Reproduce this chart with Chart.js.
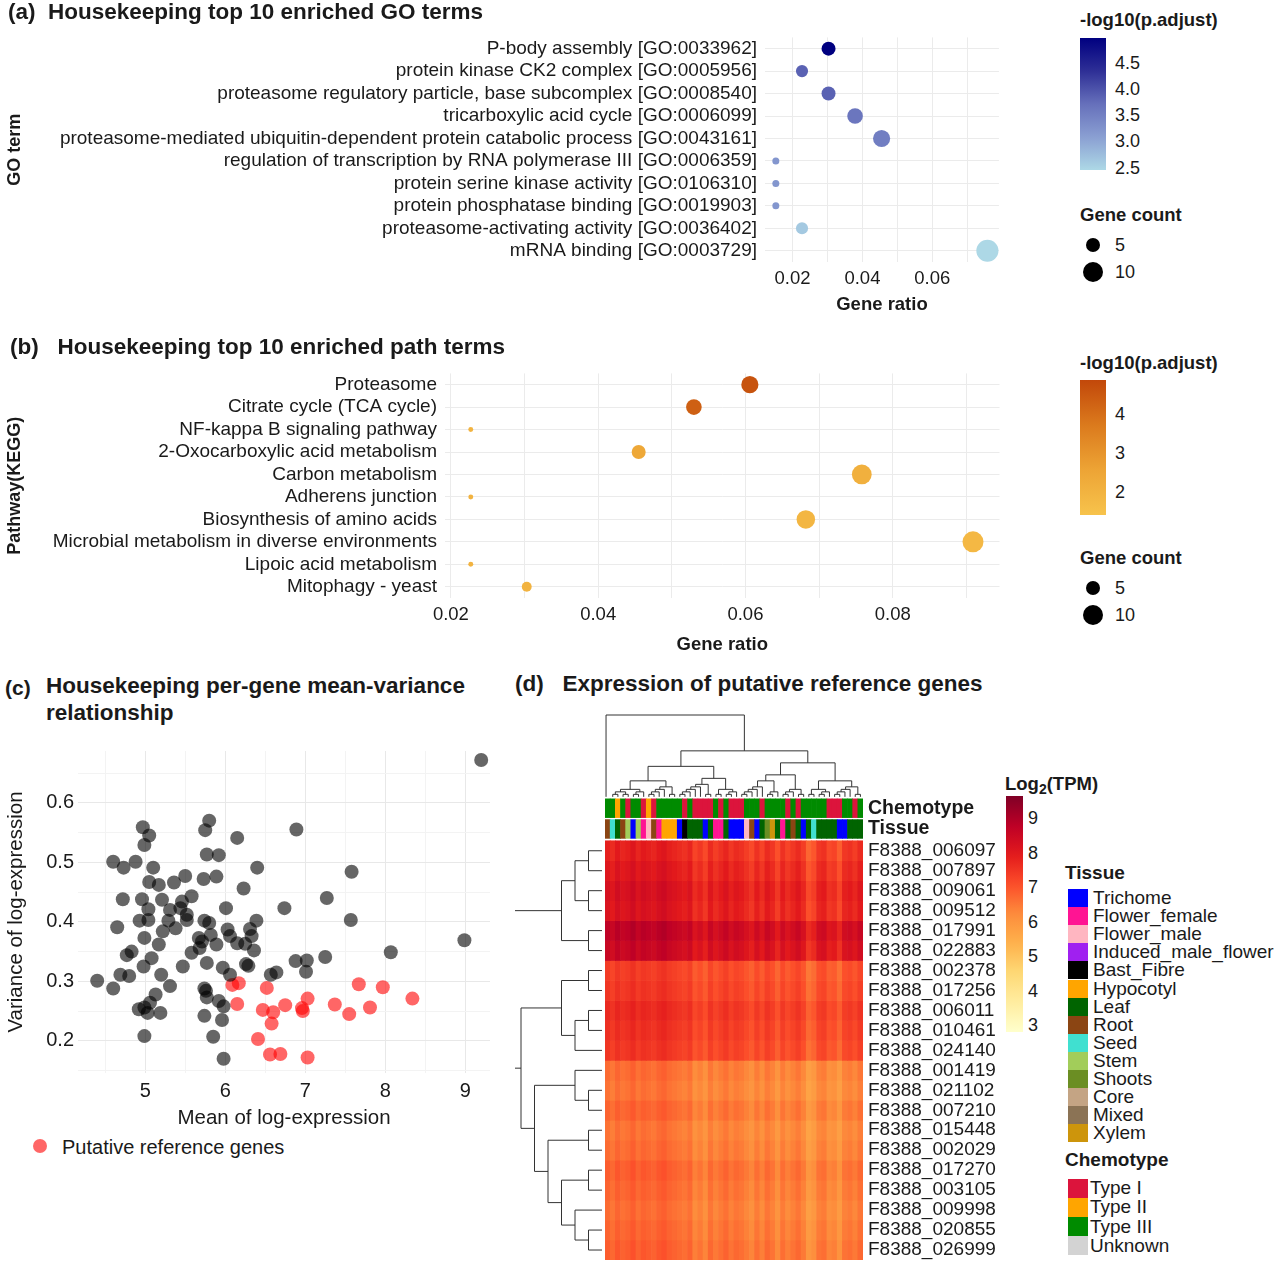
<!DOCTYPE html>
<html><head><meta charset="utf-8">
<script src="https://cdn.jsdelivr.net/npm/chart.js@4"></script>
<style>
body{margin:0;background:#fff;font-family:"Liberation Sans",Arial,sans-serif;color:#1a1a1a}
#root{position:relative;width:1280px;height:1264px;overflow:hidden}
.abs{position:absolute;white-space:nowrap}
.t{font-weight:bold;font-size:22.5px;transform:translateY(-50%)}
.lt{font-weight:bold;font-size:18.5px;transform:translateY(-50%)}
.lb{font-size:19px;transform:translateY(-50%)}
canvas{position:absolute}
.sw{position:absolute;width:20px;height:18px}
</style></head><body><div id="root">
<canvas id="ca"></canvas><canvas id="cb"></canvas><canvas id="cc"></canvas><canvas id="cd"></canvas>
</div>
<script>
// ---------- DATA ----------
const goTerms=["P-body assembly [GO:0033962]","protein kinase CK2 complex [GO:0005956]","proteasome regulatory particle, base subcomplex [GO:0008540]","tricarboxylic acid cycle [GO:0006099]","proteasome-mediated ubiquitin-dependent protein catabolic process [GO:0043161]","regulation of transcription by RNA polymerase III [GO:0006359]","protein serine kinase activity [GO:0106310]","protein phosphatase binding [GO:0019903]","proteasome-activating activity [GO:0036402]","mRNA binding [GO:0003729]"];
const goRatio=[0.0303,0.0227,0.0303,0.0379,0.0455,0.0152,0.0152,0.0152,0.0227,0.0758];
const goCount=[4,3,4,5,6,1,1,1,3,10];
const goP=[4.85,3.8,3.8,3.6,3.5,3.2,3.2,3.2,2.65,2.5];
const pathTerms=["Proteasome","Citrate cycle (TCA cycle)","NF-kappa B signaling pathway","2-Oxocarboxylic acid metabolism","Carbon metabolism","Adherens junction","Biosynthesis of amino acids","Microbial metabolism in diverse environments","Lipoic acid metabolism","Mitophagy - yeast"];
const pathRatio=[0.0606,0.0530,0.0227,0.0455,0.0758,0.0227,0.0682,0.0909,0.0227,0.0303];
const pathCount=[6,5,0.5,4,8,0.5,7,9,0.5,2];
const pathP=[4.6,4.3,2.0,2.4,2.1,2.0,1.9,1.8,2.0,2.0];
const meanBlack=[4.40,4.60,4.60,4.65,4.69,4.73,4.72,4.77,4.80,4.83,4.88,4.92,4.93,4.96,4.97,4.99,4.99,4.98,4.99,4.99,5.04,5.04,5.05,5.05,5.03,5.06,5.08,5.10,5.13,5.17,5.17,5.19,5.20,5.21,5.22,5.29,5.31,5.31,5.36,5.38,5.44,5.46,5.47,5.50,5.52,5.52,5.58,5.58,5.67,5.68,5.71,5.73,5.74,5.74,5.74,5.75,5.76,5.77,5.77,5.77,5.80,5.80,5.82,5.85,5.89,5.89,5.92,5.92,5.96,5.98,5.97,5.98,6.01,6.03,6.06,6.06,6.15,6.15,6.23,6.25,6.26,6.29,6.31,6.33,6.36,6.39,6.40,6.57,6.64,6.74,6.89,6.88,7.02,7.01,7.25,7.27,7.57,7.58,8.07,8.99,9.20];
const varBlack=[0.301,0.288,0.501,0.391,0.311,0.491,0.438,0.344,0.309,0.350,0.501,0.253,0.402,0.438,0.559,0.529,0.373,0.325,0.256,0.208,0.403,0.421,0.545,0.467,0.247,0.264,0.339,0.491,0.278,0.462,0.362,0.247,0.311,0.437,0.384,0.402,0.420,0.292,0.466,0.389,0.423,0.434,0.325,0.477,0.412,0.403,0.443,0.348,0.373,0.356,0.367,0.472,0.402,0.288,0.242,0.554,0.284,0.331,0.273,0.513,0.570,0.398,0.378,0.207,0.476,0.362,0.512,0.267,0.235,0.258,0.323,0.170,0.423,0.387,0.376,0.311,0.364,0.541,0.456,0.363,0.329,0.326,0.388,0.376,0.352,0.402,0.491,0.311,0.315,0.423,0.555,0.334,0.335,0.316,0.341,0.440,0.403,0.484,0.349,0.369,0.672];
const meanRed=[6.09,6.17,6.15,6.41,6.47,6.52,6.56,6.60,6.58,6.69,6.75,6.96,6.97,7.03,7.03,7.37,7.55,7.67,7.81,7.97,8.34];
const varRed=[0.294,0.297,0.262,0.203,0.252,0.289,0.177,0.248,0.229,0.178,0.260,0.255,0.250,0.271,0.172,0.261,0.245,0.295,0.256,0.290,0.271];
const genes=["F8388_006097","F8388_007897","F8388_009061","F8388_009512","F8388_017991","F8388_022883","F8388_002378","F8388_017256","F8388_006011","F8388_010461","F8388_024140","F8388_001419","F8388_021102","F8388_007210","F8388_015448","F8388_002029","F8388_017270","F8388_003105","F8388_009998","F8388_020855","F8388_026999"];
const geneMean=[7.4,7.6,7.8,7.7,8.3,8.1,7.0,7.1,7.3,7.2,7.1,6.3,6.2,6.4,6.2,6.3,6.5,6.4,6.3,6.4,6.5];
const sampleEffect=[0.4,0.2,0.5,0.3,0.4,0.6,0.3,0.5,0.4,0.3,0.5,0.6,0.4,0.3,0.2,0.1,0.3,-0.2,0.0,-0.3,0.2,-0.1,0.1,0.3,0.0,0.2,0.1,-0.1,-0.3,0.1,-0.2,0.2,0.0,-0.4,0.1,-0.2,0.0,0.2,-0.1,-0.7,-0.5,0.0,0.1,-0.3,-0.2,-0.6,0.0,0.1,-0.1,0.2];
const chemo=["III","III","II","III","I","III","III","I","II","I","III","III","III","III","III","I","III","I","I","I","I","III","I","III","I","I","I","III","III","III","I","III","III","III","III","I","III","I","III","III","III","III","III","I","I","I","III","III","I","III"];
const tissue=["Root","Seed","Leaf","Root","Stem","Trichome","Stem","Flower_female","Flower_male","Root","Flower_female","Hypocotyl","Hypocotyl","Hypocotyl","Trichome","Bast_Fibre","Leaf","Leaf","Leaf","Trichome","Leaf","Flower_female","Flower_female","Leaf","Trichome","Trichome","Trichome","Flower_male","Root","Trichome","Leaf","Shoots","Xylem","Leaf","Flower_female","Leaf","Root","Leaf","Trichome","Leaf","Seed","Leaf","Leaf","Leaf","Leaf","Trichome","Trichome","Leaf","Leaf","Leaf"];
const tissueNames=["Trichome","Flower_female","Flower_male","Induced_male_flower","Bast_Fibre","Hypocotyl","Leaf","Root","Seed","Stem","Shoots","Core","Mixed","Xylem"];
const tissueCols=["#0000ff","#ff1493","#ffb6c1","#a020f0","#000000","#ffa500","#006400","#8b4513","#40e0d0","#a2cd5a","#6b8e23","#c4a484","#8b7355","#cd950c"];
const chemoNames=["Type I","Type II","Type III","Unknown"];
const chemoKeys=["I","II","III","U"];
const chemoCols=["#dc143c","#ffa500","#008b00","#d3d3d3"];

// ---------- helpers ----------
const FONT='"Liberation Sans", Arial, sans-serif';
Chart.defaults.font.family=FONT;Chart.defaults.color='#1a1a1a';
Chart.defaults.animation=false;
function hex(h){return [parseInt(h.slice(1,3),16),parseInt(h.slice(3,5),16),parseInt(h.slice(5,7),16)];}
function ramp(stops,lo,hi,v){let t=(v-lo)/(hi-lo);t=Math.max(0,Math.min(1,t));const n=stops.length-1;const i=Math.min(n-1,Math.floor(t*n));const f=t*n-i;const a=hex(stops[i]),b=hex(stops[i+1]);return 'rgb('+a.map((x,k)=>Math.round(x+(b[k]-x)*f)).join(',')+')';}
const blueStops=["#add8e6","#8a9fd2","#6670bb","#2e2f96","#000080"];
const orangeStops=["#f7c34c","#eda435","#db7a1d","#c2480a"];
const ylorrd=["#ffffcc","#ffeda0","#fed976","#feb24c","#fd8d3c","#fc4e2a","#e31a1c","#bd0026","#800026"];
const rad=c=>3.5*Math.sqrt(c);
const root=document.getElementById('root');
function place(id,l,t,w,h){const c=document.getElementById(id);c.style.left=l+'px';c.style.top=t+'px';c.width=w;c.height=h;c.style.width=w+'px';c.style.height=h+'px';return c;}
function txt(s,l,t,cls,extra){const d=document.createElement('div');d.className='abs '+cls;d.style.left=l+'px';d.style.top=t+'px';d.innerHTML=s;if(extra)Object.assign(d.style,extra);root.appendChild(d);return d;}

// ---------- dot plots ----------
function dotChart(id,l,t,w,h,labels,ratio,count,p,stops,plo,phi,xmin,xmax,ticks,ytitle,areaLeft,areaBottomH,padTop){
  place(id,l,t,w,h);
  const minor=[];for(let v=0.01;v<=0.1001;v+=0.01)minor.push(+v.toFixed(2));
  return new Chart(document.getElementById(id),{type:'scatter',
   data:{datasets:[{data:labels.map((lab,i)=>({x:ratio[i],y:lab})),pointRadius:count.map(rad),pointHoverRadius:count.map(rad),backgroundColor:p.map(v=>ramp(stops,plo,phi,v)),borderWidth:0}]},
   options:{responsive:false,plugins:{legend:{display:false},tooltip:{enabled:false}},layout:{padding:{top:padTop,right:w-(1003-l)}},
    scales:{
     x:{type:'linear',min:xmin,max:xmax,afterBuildTicks:s=>{s.ticks=minor.filter(v=>v>xmin&&v<xmax).map(v=>({value:v}));},
        ticks:{callback:v=>ticks.some(q=>Math.abs(q-v)<1e-6)?v.toFixed(2):'',font:{size:18.5},color:'#1a1a1a',maxRotation:0,autoSkip:false,padding:6},
        grid:{color:'#ebebeb',drawTicks:false},border:{display:false},
        title:{display:true,text:'Gene ratio',font:{size:18.5,weight:'bold'},padding:{top:0}},afterFit:s=>{s.height=areaBottomH;}},
     y:{type:'category',labels:labels,offset:true,grid:{offset:false,color:'#ebebeb',drawTicks:false},border:{display:false},
        ticks:{font:{size:19},color:'#1a1a1a',padding:8,autoSkip:false},
        title:{display:true,text:ytitle,font:{size:18,weight:'bold'},padding:{bottom:0}},afterFit:s=>{s.width=areaLeft-l;}}
    }}});
}
dotChart('ca',0,18,1010,302,goTerms,goRatio,goCount,goP,blueStops,2.5,4.85,0.0121,0.0791,[0.02,0.04,0.06],'GO term',765,58,6);
dotChart('cb',0,354,1010,306,pathTerms,pathRatio,pathCount,pathP,orangeStops,1.4,4.85,0.0192,0.0945,[0.02,0.04,0.06,0.08],'Pathway(KEGG)',445,62,10);

// ---------- scatter (c) ----------
place('cc',0,735,500,400);
new Chart(document.getElementById('cc'),{type:'scatter',
 data:{datasets:[
  {data:meanBlack.map((x,i)=>({x,y:varBlack[i]})),pointRadius:7,backgroundColor:'rgba(0,0,0,0.6)',borderWidth:0},
  {data:meanRed.map((x,i)=>({x,y:varRed[i]})),pointRadius:7,backgroundColor:'rgba(255,0,0,0.6)',borderWidth:0}]},
 options:{responsive:false,plugins:{legend:{display:false},tooltip:{enabled:false}},layout:{padding:{top:10,right:10}},
  scales:{
   x:{min:4.16,max:9.31,afterBuildTicks:s=>{s.ticks=[4.5,5,5.5,6,6.5,7,7.5,8,8.5,9].map(v=>({value:v}));},
      ticks:{callback:v=>Number.isInteger(v)?v:'',font:{size:20},color:'#1a1a1a',maxRotation:0,autoSkip:false,padding:6},
      grid:{color:c=>Number.isInteger(c.tick.value)?'#e8e8e8':'#f3f3f3',drawTicks:false},border:{display:false},
      title:{display:true,text:'Mean of log-expression',font:{size:20.5},padding:{top:0}},afterFit:s=>{s.height=62;}},
   y:{min:0.146,max:0.687,afterBuildTicks:s=>{s.ticks=[0.15,0.2,0.25,0.3,0.35,0.4,0.45,0.5,0.55,0.6,0.65].map(v=>({value:v}));},
      ticks:{callback:v=>[0.2,0.3,0.4,0.5,0.6].some(q=>Math.abs(q-v)<1e-6)?v.toFixed(1):'',font:{size:20},color:'#1a1a1a',padding:4,autoSkip:false},
      grid:{color:c=>[0.2,0.3,0.4,0.5,0.6].some(q=>Math.abs(q-c.tick.value)<1e-6)?'#e8e8e8':'#f3f3f3',drawTicks:false},border:{display:false},
      title:{display:true,text:'Variance of log-expression',font:{size:20.5},padding:{bottom:0}},afterFit:s=>{s.width=78;}}
  }}});

// ---------- heatmap (d) ----------
const nCol=sampleEffect.length, nRow=genes.length;
const cols=sampleEffect.map((_,j)=>String(j));
const heatVal=(r,j)=>geneMean[r]+sampleEffect[j]*(r<6?1.0:0.8);
const hmColor=v=>ramp(ylorrd,2.7,9.6,v);
const hds=[];
for(let r=0;r<nRow;r++){hds.push({data:cols.map(()=>[20-r,21-r]),backgroundColor:cols.map((_,j)=>hmColor(heatVal(r,j))),borderWidth:0,grouped:false,barPercentage:1,categoryPercentage:1});}
hds.push({data:cols.map(()=>[21.12,22.06]),backgroundColor:tissue.map(t=>tissueCols[tissueNames.indexOf(t)]),borderWidth:0,grouped:false,barPercentage:1,categoryPercentage:1});
hds.push({data:cols.map(()=>[22.16,23.1]),backgroundColor:chemo.map(c=>chemoCols[chemoKeys.indexOf(c)]),borderWidth:0,grouped:false,barPercentage:1,categoryPercentage:1});
const rowTree=[[[[0,1],[2,3]],[4,5]],[[[6,7],[[8,9],10]],[[11,[12,13]],[[14,15],[[16,17],[18,[19,20]]]]]]];
const decor={id:'decor',afterDatasetsDraw(ch){
  const ctx=ch.ctx,xs=ch.scales.x,ys=ch.scales.y,a=ch.chartArea;
  ctx.save();ctx.strokeStyle='#333';ctx.lineWidth=1;
  ctx.fillStyle='#1a1a1a';ctx.font='19px '+FONT;ctx.textBaseline='middle';
  genes.forEach((g,r)=>ctx.fillText(g,a.right+5,ys.getPixelForValue(20.5-r)));
  ctx.font='bold 19.5px '+FONT;
  ctx.fillText('Chemotype',a.right+5,ys.getPixelForValue(22.63));
  ctx.fillText('Tissue',a.right+5,ys.getPixelForValue(21.59));
  const k=13.5;
  function rd(n){if(typeof n==='number')return{y:ys.getPixelForValue(20.5-n),h:0};
    const A=rd(n[0]),B=rd(n[1]);const h=Math.max(A.h,B.h)+1;const x=a.left-3-h*k;
    ctx.beginPath();ctx.moveTo(a.left-3-A.h*k,A.y);ctx.lineTo(x,A.y);ctx.lineTo(x,B.y);ctx.lineTo(a.left-3-B.h*k,B.y);ctx.stroke();
    return{y:(A.y+B.y)/2,h};}
  rd(rowTree);
  const base=ys.getPixelForValue(23.2),cw=(xs.getPixelForValue(1)-xs.getPixelForValue(0));
  function cd(lo,hi,depth){if(lo===hi)return{x:xs.getPixelForValue(lo),y:base};
    const mid=Math.floor((lo+hi)/2+((lo*7+hi*3)%3-1));const m=Math.max(lo,Math.min(hi-1,mid));
    const A=cd(lo,m,depth+1),B=cd(m+1,hi,depth+1);
    const y=Math.min(A.y,B.y)-(hi-lo>20?12:hi-lo>6?6:2.5);
    ctx.beginPath();ctx.moveTo(A.x,A.y);ctx.lineTo(A.x,y);ctx.lineTo(B.x,y);ctx.lineTo(B.x,B.y);ctx.stroke();
    return{x:(A.x+B.x)/2,y};}
  const R=cd(1,nCol-1,0);const L={x:xs.getPixelForValue(0)-cw*0.3,y:base};
  const top=a.top;
  ctx.beginPath();ctx.moveTo(L.x,L.y);ctx.lineTo(L.x,top);ctx.lineTo(R.x,top);ctx.lineTo(R.x,R.y);ctx.stroke();
  ctx.restore();}};
place('cd',515,705,490,559);
new Chart(document.getElementById('cd'),{type:'bar',data:{labels:cols,datasets:hds},plugins:[decor],
 options:{responsive:false,plugins:{legend:{display:false},tooltip:{enabled:false}},layout:{padding:{left:90,right:142,top:10,bottom:4}},
  scales:{x:{display:false,offset:true},y:{display:false,min:0,max:27.3}}}});

// ---------- text & legends ----------
txt('(a)&nbsp;&nbsp;Housekeeping top 10 enriched GO terms',8,12,'t');
txt('(b)&nbsp;&nbsp;&nbsp;Housekeeping top 10 enriched path terms',10,347,'t');
txt('(c)',5,688,'t',{fontSize:'21px'});
txt('Housekeeping per-gene mean-variance',46,686,'t');
txt('relationship',46,713,'t');
txt('(d)&nbsp;&nbsp;&nbsp;Expression of putative reference genes',515,684,'t');
const rd=document.createElement('div');rd.className='abs';Object.assign(rd.style,{left:'33px',top:'1139px',width:'14px',height:'14px',borderRadius:'50%',background:'rgba(255,0,0,0.6)'});root.appendChild(rd);
txt('Putative reference genes',62,1147,'lb',{fontSize:'20px'});
function bar(l,t,w,h,stops){const d=document.createElement('div');d.className='abs';Object.assign(d.style,{left:l+'px',top:t+'px',width:w+'px',height:h+'px',background:'linear-gradient(to top,'+stops.join(',')+')'});root.appendChild(d);}
txt('-log10(p.adjust)',1080,20,'lt');
bar(1080,38,26,132,blueStops);
[[4.5,63],[4.0,89],[3.5,115],[3.0,141],[2.5,168]].forEach(([v,y])=>txt(v.toFixed(1),1115,y,'lb',{fontSize:'18px'}));
function gc(y0){txt('Gene count',1080,y0,'lt');
 [[5,y0+30,7],[10,y0+57,10]].forEach(([v,y,r])=>{const d=document.createElement('div');d.className='abs';Object.assign(d.style,{left:(1093-r)+'px',top:(y-r)+'px',width:2*r+'px',height:2*r+'px',borderRadius:'50%',background:'#000'});root.appendChild(d);txt(String(v),1115,y,'lb',{fontSize:'18px'});});}
gc(215);
txt('-log10(p.adjust)',1080,363,'lt');
bar(1080,380,26,135,orangeStops);
[[4,414],[3,453],[2,492]].forEach(([v,y])=>txt(String(v),1115,y,'lb',{fontSize:'18px'}));
gc(558);
txt('Log<sub style="font-size:14px">2</sub>(TPM)',1005,785,'lt');
const ls=[];for(let v=2.7;v<=9.61;v+=0.3)ls.push(hmColor(v));
bar(1006,796,17,236,ls);
[9,8,7,6,5,4,3].forEach((v,i)=>txt(String(v),1028,818+i*34.5,'lb',{fontSize:'18px'}));
txt('Tissue',1065,873,'lt',{fontSize:'19px'});
tissueNames.forEach((n,i)=>{const y=898+i*18.1;const s=document.createElement('div');s.className='sw';Object.assign(s.style,{left:'1068px',top:(y-9)+'px',background:tissueCols[i]});root.appendChild(s);txt(n,1093,y,'lb');});
txt('Chemotype',1065,1160,'lt',{fontSize:'19px'});
chemoNames.forEach((n,i)=>{const y=1188+i*19.3;const s=document.createElement('div');s.className='sw';Object.assign(s.style,{left:'1068px',top:(y-9.5)+'px',height:'19px',background:chemoCols[i]});root.appendChild(s);txt(n,1090,y,'lb');});
</script></body></html>
